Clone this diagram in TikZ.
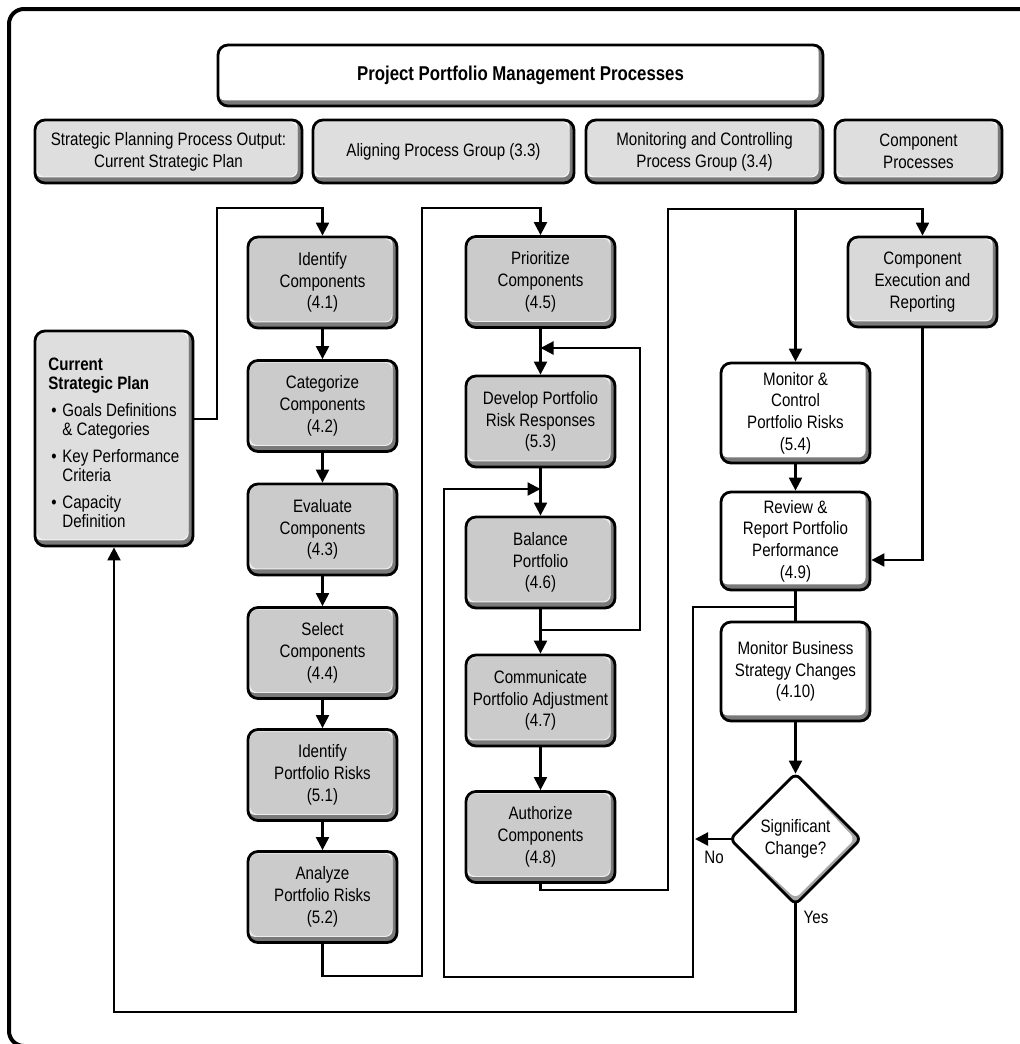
\documentclass[tikz,border=0pt]{standalone}
\usepackage{fontspec}
\setmainfont{Liberation Sans}[FakeStretch=0.84]
\usetikzlibrary{arrows.meta,shapes.geometric,calc}
\pgfdeclarelayer{background}
\pgfsetlayers{background,main}
\definecolor{hdrgray}{HTML}{DEDEDE}
\definecolor{stepgray}{HTML}{CBCBCB}
\definecolor{execgray}{HTML}{D9D9D9}
\definecolor{bevdark}{HTML}{7A7A7A}
\begin{document}
\begin{tikzpicture}[x=0.5pt,y=-0.5pt,
  bev/.style={draw=black, line width=1.4pt, rounded corners=5pt, fill=#1,
    inner sep=2pt, align=center, font=\fontsize{9}{10.85}\selectfont,
    path picture={
      \fill[bevdark] (path picture bounding box.south west) rectangle (path picture bounding box.north east);
      \fill[white!65!#1, rounded corners=3.5pt] (path picture bounding box.north west)
        rectangle ([shift={(-2.2pt,2.8pt)}]path picture bounding box.south east);
      \fill[#1, rounded corners=3.5pt] ([shift={(1.1pt,-1.1pt)}]path picture bounding box.north west)
        rectangle ([shift={(-2.6pt,3.3pt)}]path picture bounding box.south east);
    }},
  hdr/.style={bev=hdrgray, minimum height=31.5pt},
  stepbox/.style={bev=stepgray, minimum width=74.5pt, minimum height=45.5pt},
  wbox/.style={bev=white, minimum width=74.5pt},
  conn/.style={line width=1.1pt},
  arrowline/.style={conn, -{Triangle[length=6.5pt,width=6.5pt]}},
  lbl/.style={inner sep=0pt, font=\fontsize{9}{10.85}\selectfont}
]
\useasboundingbox (0,0) rectangle (1020,1044);

% outer frame
\draw[line width=2pt, rounded corners=7.5pt] (9,9) rectangle (1080,1046);

% title and header row
\node[bev=white, minimum width=302.5pt, minimum height=30.5pt,
      font=\fontsize{10}{12}\selectfont\bfseries] (title) at (520.5,75.5)
      {Project Portfolio Management Processes};
\node[hdr, minimum width=133.5pt] (h1) at (168.5,151.5) {Strategic Planning Process Output:\\Current Strategic Plan};
\node[hdr, minimum width=130.5pt] (h2) at (443.5,151.5) {Aligning Process Group (3.3)};
\node[hdr, minimum width=118.5pt] (h3) at (704.5,151.5) {Monitoring and Controlling\\Process Group (3.4)};
\node[hdr, minimum width=83.5pt] (h4) at (918.5,151.5) {Component\\Processes};

% strategic plan box
\node[bev=hdrgray, minimum width=79pt, minimum height=107.5pt] (plan) at (114,438.5) {};
\node[anchor=north west, inner sep=0pt, align=left, font=\fontsize{9}{9.4}\selectfont] (plantext) at (48,358)
  {\textbf{Current}\\\textbf{Strategic Plan}\\[4.2pt]
   \makebox[7pt][l]{\hspace{1.5pt}\textbullet}Goals Definitions\\\hspace*{7pt}\& Categories\\[4.2pt]
   \makebox[7pt][l]{\hspace{1.5pt}\textbullet}Key Performance\\\hspace*{7pt}Criteria\\[4.2pt]
   \makebox[7pt][l]{\hspace{1.5pt}\textbullet}Capacity\\\hspace*{7pt}Definition};

% aligning column 1
\node[stepbox] (c41) at (322.5,282.5) {Identify\\Components\\(4.1)};
\node[stepbox] (c42) at (322.5,406) {Categorize\\Components\\(4.2)};
\node[stepbox] (c43) at (322.5,529.5) {Evaluate\\Components\\(4.3)};
\node[stepbox] (c44) at (322.5,653) {Select\\Components\\(4.4)};
\node[stepbox] (c51) at (322.5,775) {Identify\\Portfolio Risks\\(5.1)};
\node[stepbox] (c52) at (322.5,897) {Analyze\\Portfolio Risks\\(5.2)};

% aligning column 2
\node[stepbox] (c45) at (540.5,282) {Prioritize\\Components\\(4.5)};
\node[stepbox] (c53) at (540.5,421.5) {Develop Portfolio\\Risk Responses\\(5.3)};
\node[stepbox] (c46) at (540.5,562.5) {Balance\\Portfolio\\(4.6)};
\node[stepbox] (c47) at (540.5,700.5) {Communicate\\Portfolio Adjustment\\(4.7)};
\node[stepbox] (c48) at (540.5,837) {Authorize\\Components\\(4.8)};

% monitoring and component column
\node[bev=execgray, minimum width=74.5pt, minimum height=45pt] (exec) at (922.5,282) {Component\\Execution and\\Reporting};
\node[wbox, minimum height=50pt] (mc54) at (795.5,413) {Monitor \&\\Control\\Portfolio Risks\\(5.4)};
\node[wbox, minimum height=49pt] (rr49) at (795.5,541) {Review \&\\Report Portfolio\\Performance\\(4.9)};
\node[wbox, minimum height=49.5pt] (mb410) at (795.5,671.5) {Monitor Business\\Strategy Changes\\(4.10)};
\node[diamond, draw=black, line width=1.4pt, rounded corners=3pt, fill=white,
      minimum width=66pt, minimum height=66pt, inner sep=0pt, align=center,
      font=\fontsize{9}{10.85}\selectfont,
      path picture={
        \fill[black!35] (path picture bounding box.south west) rectangle (path picture bounding box.north east);
        \fill[white] ([yshift=-0.8pt]path picture bounding box.north)
          -- ([xshift=-3pt]path picture bounding box.east)
          -- ([yshift=3pt]path picture bounding box.south)
          -- ([xshift=0.8pt]path picture bounding box.west) -- cycle;
      }] (dia) at (795.5,839) {Significant\\Change?};

\node[lbl] (nolbl) at (714,857) {No};
\node[lbl] (yeslbl) at (816,917) {Yes};

% connectors
\coordinate (p1) at (217,419);
\coordinate (r1) at (640,630);
\coordinate (r2) at (640,348);
\coordinate (q1) at (693,607);
\coordinate (q2) at (693,977);
\coordinate (q3) at (444,977);
\coordinate (q4) at (444,489);
\coordinate (s1) at (668,890);
\coordinate (s2) at (668,209);
\coordinate (e1) at (928,560);
\coordinate (n1) at (695,839);
\coordinate (y1) at (0,1012);

\draw[arrowline] (plan.east |- p1) -- (p1) -- (217,208) -| (c41.north);
\draw[arrowline] (c41) -- (c42);
\draw[arrowline] (c42) -- (c43);
\draw[arrowline] (c43) -- (c44);
\draw[arrowline] (c44) -- (c51);
\draw[arrowline] (c51) -- (c52);
\draw[arrowline] (c52.south) |- (422,976) -- (422,208) -| (c45.north);

\draw[arrowline] (c45) -- (c53);
\draw[arrowline] (c53) -- (c46);
\draw[arrowline] (c46) -- (c47);
\draw[arrowline] (c47) -- (c48);
\draw[arrowline] (c46.south |- r1) -- (r1) -- (r2) -- (c45.south |- r2);
\draw[arrowline] (rr49.south |- q1) -- (q1) -- (q2) -- (q3) -- (q4) -- (c46.north |- q4);

\draw[arrowline] (c48.south) |- (s1) -- (s2) -| (exec.north);
\draw[arrowline] (mc54.north |- s2) -- (mc54.north);
\draw[arrowline] (exec.south) |- (rr49.east |- e1);
\draw[arrowline] (mc54) -- (rr49);
\draw[conn] (rr49) -- (mb410);
\draw[arrowline] (mb410) -- ([yshift=-1pt]dia.north);

\begin{pgfonlayer}{background}
\draw[arrowline] ([xshift=3pt]dia.west) -- (dia.west -| n1);
\draw[arrowline] ([yshift=3pt]dia.south) -- (dia.south |- y1) -- (plan.south |- y1) -- (plan.south);
\end{pgfonlayer}
\end{tikzpicture}
\end{document}
